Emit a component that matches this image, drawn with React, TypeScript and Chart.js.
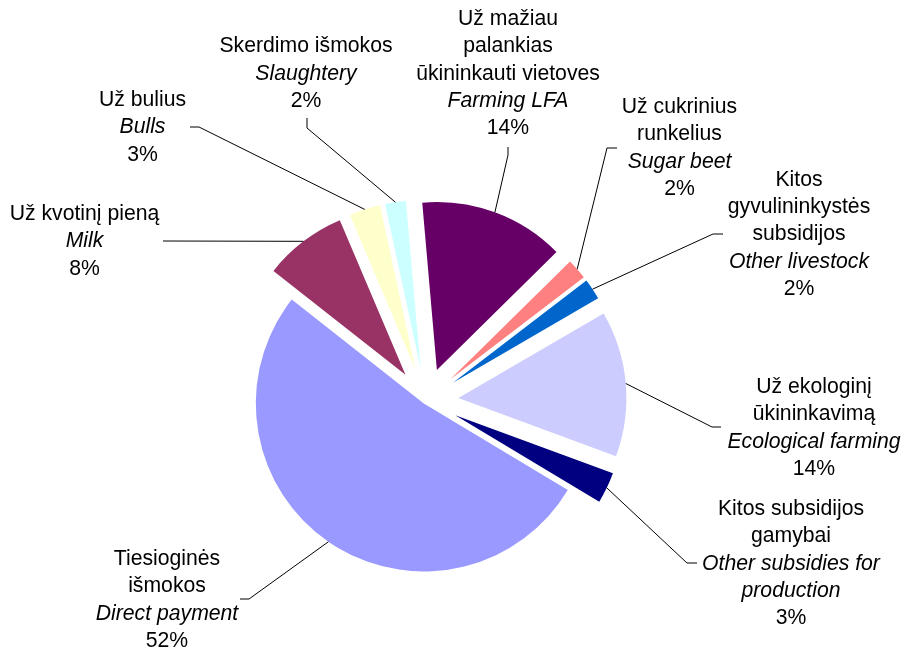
import React, { useEffect, useRef } from "react";
import { Chart, registerables } from "chart.js";

Chart.register(...registerables);

// ---- data ----
const ltNames: string[][] = [
  ["Už mažiau", "palankias", "ūkininkauti vietoves"],
  ["Už cukrinius", "runkelius"],
  ["Kitos", "gyvulininkystės", "subsidijos"],
  ["Už ekologinį", "ūkininkavimą"],
  ["Kitos subsidijos", "gamybai"],
  ["Tiesioginės", "išmokos"],
  ["Už kvotinį pieną"],
  ["Už bulius"],
  ["Skerdimo išmokos"],
];
const enNames: string[][] = [
  ["Farming LFA"],
  ["Sugar beet"],
  ["Other livestock"],
  ["Ecological farming"],
  ["Other subsidies for", "production"],
  ["Direct payment"],
  ["Milk"],
  ["Bulls"],
  ["Slaughtery"],
];
const shares: number[] = [14, 2, 2, 14, 3, 52, 8, 3, 2];

// ---- style / layout ----
const colors = ["#660066", "#FF8080", "#0066CC", "#CCCCFF", "#000080", "#9999FF", "#993366", "#FFFFCC", "#CCFFFF"];
const explode = [33, 33, 33, 33, 33, 3, 33, 33, 33];
// label text anchor (center x, first baseline) relative to pie center
const labelAnchor: [number, number][] = [
  [82.5, -376], [254, -288], [373.5, -215.3], [388.5, -8], [365.5, 114],
  [-258.5, 164], [-341, -181], [-283, -295], [-119.5, -348.7],
];
const leaderElbow: [number, number][] = [
  [82.5, -246], [181.5, -253], [287.5, -167], [286.5, 26], [261.5, 162],
  [-176.5, 198], [-262.5, -160], [-226.5, -274], [-118.5, -273],
];
const leaderEnd: [number, number][] = [
  [82.5, -254], [191.5, -253], [297.5, -167], [295.5, 26], [271.5, 162],
  [-185.5, 198], [-262.5, -160], [-235.5, -274], [-118.5, -283],
];
const FONT_SIZE = 21.2;
const LINE_H = 27.3;
const FAMILY = '"Liberation Sans", Arial, sans-serif';

const piePlugin = {
  id: "explodedPie",
  beforeDatasetDraw(chart: any, args: any) {
    const ctx = chart.ctx;
    args.meta.data.forEach((arc: any, i: number) => {
      const mid = (arc.startAngle + arc.endAngle) / 2;
      const d = explode[i];
      ctx.save();
      ctx.translate(Math.cos(mid) * d, Math.sin(mid) * d);
      arc.draw(ctx);
      ctx.restore();
    });
    return false;
  },
  afterDatasetsDraw(chart: any) {
    const ctx = chart.ctx;
    const meta = chart.getDatasetMeta(0);
    const data = chart.data.datasets[0].data as number[];
    const total = data.reduce((a, b) => a + b, 0);
    meta.data.forEach((arc: any, i: number) => {
      const cx = arc.x;
      const cy = arc.y;
      const mid = (arc.startAngle + arc.endAngle) / 2;
      const r = arc.outerRadius + explode[i];
      const sx = cx + Math.cos(mid) * r;
      const sy = cy + Math.sin(mid) * r;
      ctx.save();
      ctx.strokeStyle = "#000";
      ctx.lineWidth = 1;
      ctx.beginPath();
      ctx.moveTo(sx, sy);
      ctx.lineTo(cx + leaderElbow[i][0], cy + leaderElbow[i][1]);
      ctx.lineTo(cx + leaderEnd[i][0], cy + leaderEnd[i][1]);
      ctx.stroke();

      const lines: { t: string; it: boolean }[] = [];
      ltNames[i].forEach((t) => lines.push({ t, it: false }));
      enNames[i].forEach((t) => lines.push({ t, it: true }));
      lines.push({ t: Math.round((data[i] / total) * 100) + "%", it: false });
      ctx.fillStyle = "#000";
      ctx.textAlign = "center";
      ctx.textBaseline = "alphabetic";
      const ax = cx + labelAnchor[i][0];
      const ay = cy + labelAnchor[i][1];
      lines.forEach((ln, k) => {
        ctx.font = `${ln.it ? "italic " : ""}${FONT_SIZE}px ${FAMILY}`;
        ctx.fillText(ln.t, ax, ay + k * LINE_H);
      });
      ctx.restore();
    });
  },
};

export default function App() {
  const ref = useRef<HTMLCanvasElement | null>(null);
  useEffect(() => {
    if (!ref.current) return;
    const chart = new Chart(ref.current, {
      type: "pie",
      data: {
        labels: enNames.map((l) => l.join(" ")),
        datasets: [
          {
            data: shares,
            backgroundColor: colors,
            borderWidth: 0,
          },
        ],
      },
      options: {
        responsive: false,
        animation: false,
        rotation: -5,
        radius: 168,
        layout: { padding: { left: 0, right: 52, top: 152, bottom: 0 } },
        plugins: {
          legend: { display: false },
          tooltip: { enabled: false },
        },
      } as any,
      plugins: [piePlugin],
    });
    return () => chart.destroy();
  }, []);
  return (
    <div style={{ position: "absolute", left: 0, top: 0, width: 903, height: 650, background: "#fff" }}>
      <canvas ref={ref} width={903} height={650} />
    </div>
  );
}
